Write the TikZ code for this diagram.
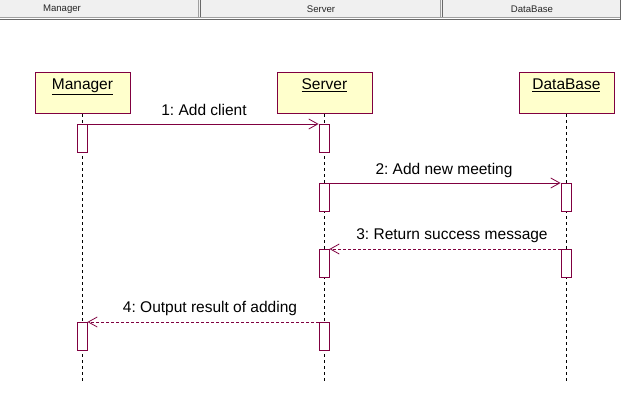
\documentclass[tikz,border=0pt]{standalone}
\usepackage{fontspec}
\setmainfont{Liberation Sans}
\usetikzlibrary{arrows.meta}
\frenchspacing
\definecolor{umlline}{RGB}{128,0,64}
\definecolor{umlfill}{RGB}{255,255,204}
\definecolor{hdrbg}{RGB}{240,240,240}
\definecolor{hdrline}{RGB}{160,160,160}
\definecolor{hdrdark}{RGB}{105,105,105}
\tikzset{
  objbox/.style={draw=umlline, fill=umlfill, line width=0.9pt, minimum width=95pt, minimum height=41pt, inner sep=0pt, anchor=north west, font=\fontsize{15.5}{17}\selectfont, text depth=18pt, text height=11pt},
  actbox/.style={draw=umlline, fill=white, line width=0.9pt, minimum width=10pt, minimum height=28pt, inner sep=0pt, anchor=north},
  lifeline/.style={black, line width=0.8pt, dash pattern=on 3pt off 3pt},
  msg/.style={umlline, line width=0.9pt, -{Straight Barb[length=9pt,width=10pt,line width=0.8pt]}},
  ret/.style={msg, dash pattern=on 3pt off 2pt},
  msglabel/.style={font=\fontsize{15.5}{17}\selectfont, text=black, inner sep=0pt},
  hdrtext/.style={font=\fontsize{9.6}{10}\selectfont, text=black!85, inner sep=0pt}
}
\begin{document}
\begin{tikzpicture}[x=1pt,y=-1pt]
\useasboundingbox (0,0) rectangle (623,419);
\fill[white] (0,0) rectangle (623,419);
% header bar
\fill[hdrbg] (0,0) rectangle (621,17);
\draw[hdrline, line width=1.2pt] (0,17.6) -- (621,17.6);
\draw[hdrdark, line width=1.2pt] (0,19.8) -- (621,19.8);
\draw[hdrline, line width=1pt] (198.8,0) -- (198.8,17);
\draw[hdrdark, line width=1pt] (200.2,0) -- (200.2,17);
\draw[hdrline, line width=1pt] (440.8,0) -- (440.8,17);
\draw[hdrdark, line width=1pt] (442.2,0) -- (442.2,17);
\draw[hdrdark, line width=1.2pt] (620.5,0) -- (620.5,20.4);
\node[hdrtext] (hm) at (62,9) {Manager};
\node[hdrtext] (hs) at (321,9) {Server};
\node[hdrtext] (hd) at (532,9) {DataBase};
% objects
\node[objbox] (mgr) at (34.5,72.5) {\underline{Manager}};
\node[objbox] (srv) at (276.5,72.5) {\underline{Server}};
\node[objbox] (db) at (518.5,72.5) {\underline{DataBase}};
% lifelines
\coordinate (mgrend) at (mgr.south |- 0,381);
\coordinate (srvend) at (srv.south |- 0,381);
\coordinate (dbend) at (db.south |- 0,381);
\draw[lifeline] (mgr.south) -- (mgrend);
\draw[lifeline] (srv.south) -- (srvend);
\draw[lifeline] (db.south) -- (dbend);
% activations
\node[actbox] (m1) at (82,124) {};
\node[actbox] (s1) at (324,124) {};
\node[actbox] (s2) at (324,183) {};
\node[actbox] (d2) at (566,183) {};
\node[actbox] (s3) at (324,249) {};
\node[actbox] (d3) at (566,249) {};
\node[actbox] (s4) at (324,322) {};
\node[actbox] (m4) at (82,322) {};
% messages
\draw[msg] (m1.north east) -- (s1.north west);
\draw[msg] (s2.north east) -- (d2.north west);
\draw[ret] (d3.north west) -- (s3.north east);
\draw[ret] (s4.north west) -- (m4.north east);
% labels
\node[msglabel] (l1) at (204,110) {1: Add client};
\node[msglabel] (l2) at (444,170) {2: Add new meeting};
\node[msglabel] (l3) at (452,236) {3: Return success message};
\node[msglabel] (l4) at (210,308) {4: Output result of adding};
\end{tikzpicture}
\end{document}
